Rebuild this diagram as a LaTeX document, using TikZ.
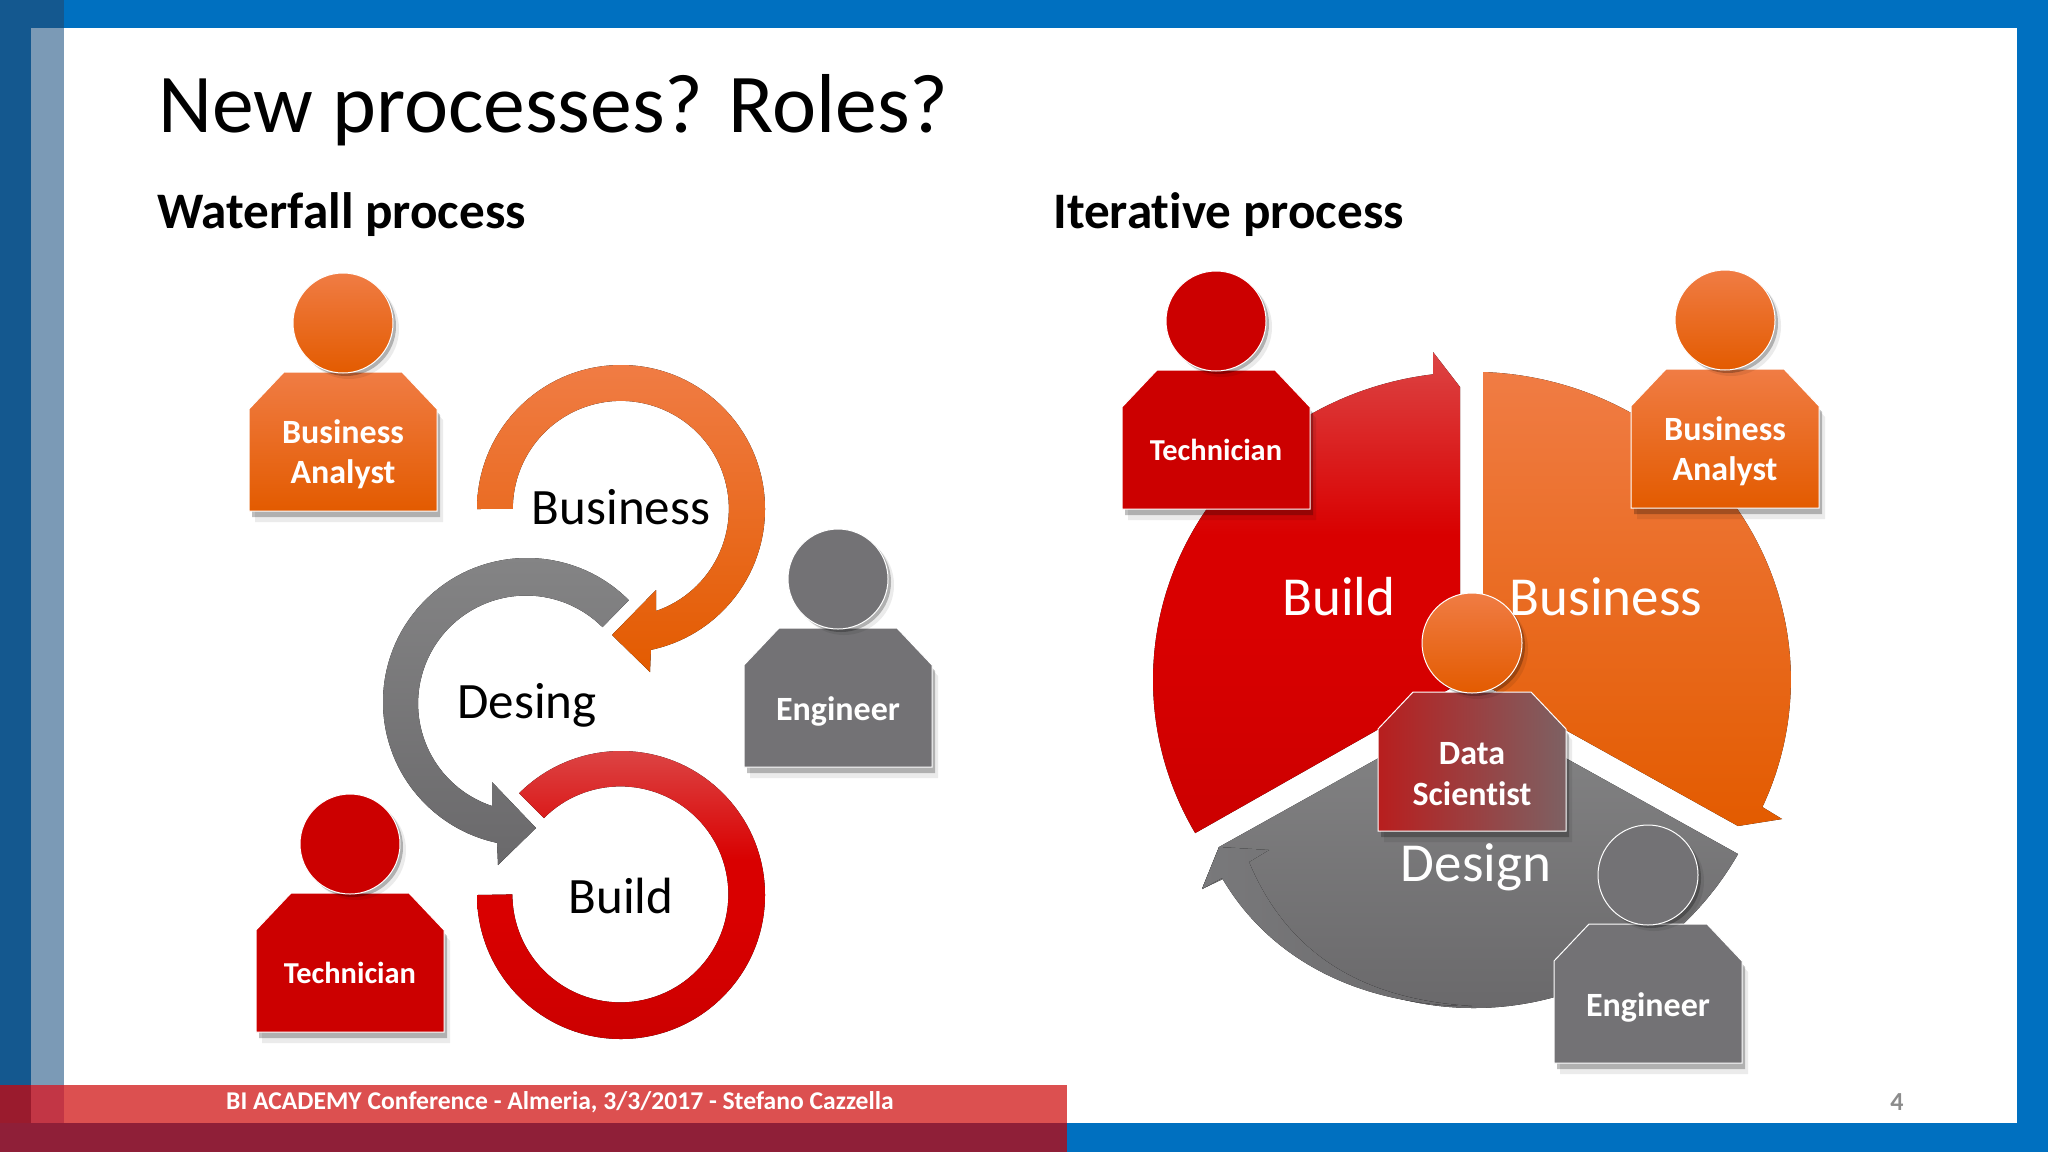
\documentclass[tikz,border=0pt]{standalone}
\usepackage{fontspec}
\setmainfont[Ligatures=NoCommon]{Carlito}

\definecolor{barblue}{HTML}{0070C0}
\definecolor{bardark}{HTML}{14588F}
\definecolor{barlight}{HTML}{7B9AB6}
\definecolor{bandred}{HTML}{DC5050}
\definecolor{banddark}{HTML}{8F1F38}
\definecolor{bandmid}{HTML}{9A1B2D}
\definecolor{bandsoft}{HTML}{C23645}
\definecolor{orangetop}{HTML}{F07C44}
\definecolor{orangemid}{HTML}{F56A0C}
\definecolor{orangelow}{HTML}{E35B00}
\definecolor{redtop}{HTML}{DC4444}
\definecolor{redmid}{HTML}{D90000}
\definecolor{redlow}{HTML}{CC0000}
\definecolor{greytop}{HTML}{858586}
\definecolor{greylow}{HTML}{6A696B}
\definecolor{greyflatc}{HTML}{737275}
\definecolor{mixleft}{HTML}{B81E1E}
\definecolor{mixright}{HTML}{7D6163}
\definecolor{greyband}{HTML}{79797B}

\pgfdeclareverticalshading{redshade}{100bp}{color(0bp)=(redlow); color(25bp)=(redlow); color(46bp)=(redmid);
  color(56bp)=(redmid); color(75bp)=(redtop); color(100bp)=(redtop)}

\tikzset{
  orangefill/.style={top color=orangetop, middle color=orangemid, bottom color=orangelow},
  redfill/.style={shade, shading=redshade},
  greyfill/.style={top color=greytop, bottom color=greylow},
  redflat/.style={fill=redlow},
  greyflat/.style={fill=greyflatc},
  mixedfill/.style={left color=mixleft, right color=mixright},
  bodyedge/.style={draw=white, line width=.5pt},
  nearshadow/.style={fill=black, opacity=.25},
  farshadow/.style={fill=black, opacity=.08},
  personlabel/.style={text=white, align=center, font=\fontsize{17}{20.2}\selectfont\bfseries},
  techlabel/.style={personlabel, font=\fontsize{15.2}{20}\selectfont\bfseries},
  roundlabel/.style={text=black, font=\fontsize{25.5}{30}\selectfont},
  pielabel/.style={text=white, font=\fontsize{27.5}{33}\selectfont},
  headline/.style={anchor=base west, inner sep=0pt, font=\fontsize{25.6}{30}\selectfont\bfseries}
}

\newcommand{\bodyoutline}[2]{(#1-94, #2+37) -- (#1-59, #2) -- (#1+59, #2) -- (#1+94, #2+37)
    -- (#1+94, #2+139) -- (#1-94, #2+139) -- cycle}

\newcommand{\person}[5]{
  \fill [farshadow] \bodyoutline{#2+6}{#3+11};
  \fill [nearshadow] \bodyoutline{#2+3}{#3+6};
  \draw [bodyedge, #4] \bodyoutline{#2}{#3};
  \fill [farshadow] (#2+6, #3-43) circle [radius=50];
  \fill [nearshadow] (#2+3, #3-46) circle [radius=50];
  \node [circle, inner sep=0pt, minimum size=50pt, bodyedge, #5] (#1head) at (#2, #3-49) {};
}

\begin{document}
\begin{tikzpicture}[x=.5pt, y=.5pt, yscale=-1]
  \useasboundingbox (0, 0) rectangle (2048, 1152);

  \fill [barblue] (0, 0) rectangle (2048, 28);
  \fill [barblue] (2017, 0) rectangle (2048, 1152);
  \fill [barblue] (0, 1123) rectangle (2048, 1152);
  \fill [bardark] (0, 0) rectangle (64, 28);
  \fill [bardark] (0, 0) rectangle (31, 1152);
  \fill [barlight] (31, 28) rectangle (64, 1123);
  \fill [bandred] (64, 1085) rectangle (1067, 1123);
  \fill [bandmid] (0, 1085) rectangle (31, 1123);
  \fill [bandsoft] (31, 1085) rectangle (64, 1123);
  \fill [banddark] (0, 1123) rectangle (1067, 1152);

  \node [anchor=base west, inner sep=0pt, font=\fontsize{41.8}{50}\selectfont] (slidetitle) at (158, 132) {New processes? Roles?};
  \node [headline] (waterfallhead) at (157, 228) {Waterfall process};
  \node [headline] (iterativehead) at (1053, 228) {Iterative process};

  \coordinate (bizc) at (621, 509);
  \coordinate (desc) at (527, 702);
  \coordinate (bldc) at (621, 895);
  \coordinate (pie) at (1472, 680);

  \fill [orangefill] (bizc) ++(180:144) arc [start angle=180, end angle=438, radius=144]
    -- (650, 672) -- (612, 635) -- (656, 590) -- (656, 611)
    arc [start angle=431, end angle=180, radius=108] -- cycle;
  \fill [greyfill] (desc) ++(-45:144) arc [start angle=-45, end angle=-258, radius=144]
    -- (498, 865) -- (536, 828) -- (492, 782) -- (492, 806)
    arc [start angle=-251.6, end angle=-45, radius=108] -- cycle;
  \fill [redfill] (bldc) ++(180:144) arc [start angle=180, end angle=-135, radius=144]
    -- (544, 818) arc [start angle=-135, end angle=180, radius=108] -- cycle;

  \node [roundlabel] (bizlabel) at (621, 507) {Business};
  \node [roundlabel] (deslabel) at (527, 705) {Desing};
  \node [roundlabel] (bldlabel) at (621, 896) {Build};

  \fill [greyfill] (1472, 706) -- (1738, 854) arc [start angle=30, end angle=144.7, x radius=305, y radius=308]
    -- (1202, 889) -- (1219, 847) -- cycle;
  \fill [left color=greyband, right color=greylow] (1219, 847) -- (1269, 850) -- (1249, 862)
    .. controls (1290, 960) and (1370, 1000) .. (1472, 1006)
    .. controls (1360, 1006) and (1270, 960) .. (1222, 878) -- (1202, 889) -- cycle;
  \fill [redfill] (pie) ++(150.2:319 and 308) arc [start angle=150.2, end angle=263, x radius=319, y radius=308]
    -- (1433, 352) -- (1460, 387) -- (1460, 683) -- cycle;
  \fill [orangefill] (1483, 372) arc [start angle=-88, end angle=24.4, x radius=319, y radius=308]
    -- (1782, 819) -- (1738, 826) -- (1483, 684) -- cycle;

  \node [pielabel] (buildpie) at (1339, 597) {Build};
  \node [pielabel] (bizpie) at (1606, 597) {Business};
  \node [pielabel] (designpie) at (1476, 867) {Design};

  \person{analystleft}{343}{372}{orangefill}{orangefill}
  \node [personlabel] (analystlefttext) at (343, 454) {Business\\Analyst};
  \person{techleft}{350}{893}{redflat}{redflat}
  \node [techlabel] (techlefttext) at (350, 973) {Technician};
  \person{engleft}{838}{628}{greyflat}{greyflat}
  \node [personlabel] (englefttext) at (838, 711) {Engineer};

  \person{techright}{1216}{370}{redflat}{redflat}
  \node [techlabel] (techrighttext) at (1216, 450) {Technician};
  \person{analystright}{1725}{369}{orangefill}{orangefill}
  \node [personlabel] (analystrighttext) at (1725, 451) {Business\\Analyst};
  \person{engright}{1648}{924}{greyflat}{greyflat}
  \node [personlabel] (engrighttext) at (1648, 1007) {Engineer};
  \person{scientist}{1472}{692}{mixedfill}{orangefill}
  \node [personlabel] (scientisttext) at (1472, 774) {Data\\Scientist};

  \node [text=white, font=\fontsize{12.8}{15}\selectfont\bfseries] (footertext) at (560, 1102) {BI ACADEMY Conference - Almeria, 3/3/2017 - Stefano Cazzella};
  \node [text=black!45, font=\fontsize{13}{15}\selectfont\bfseries] (pagenumber) at (1897, 1102) {4};
\end{tikzpicture}
\end{document}
